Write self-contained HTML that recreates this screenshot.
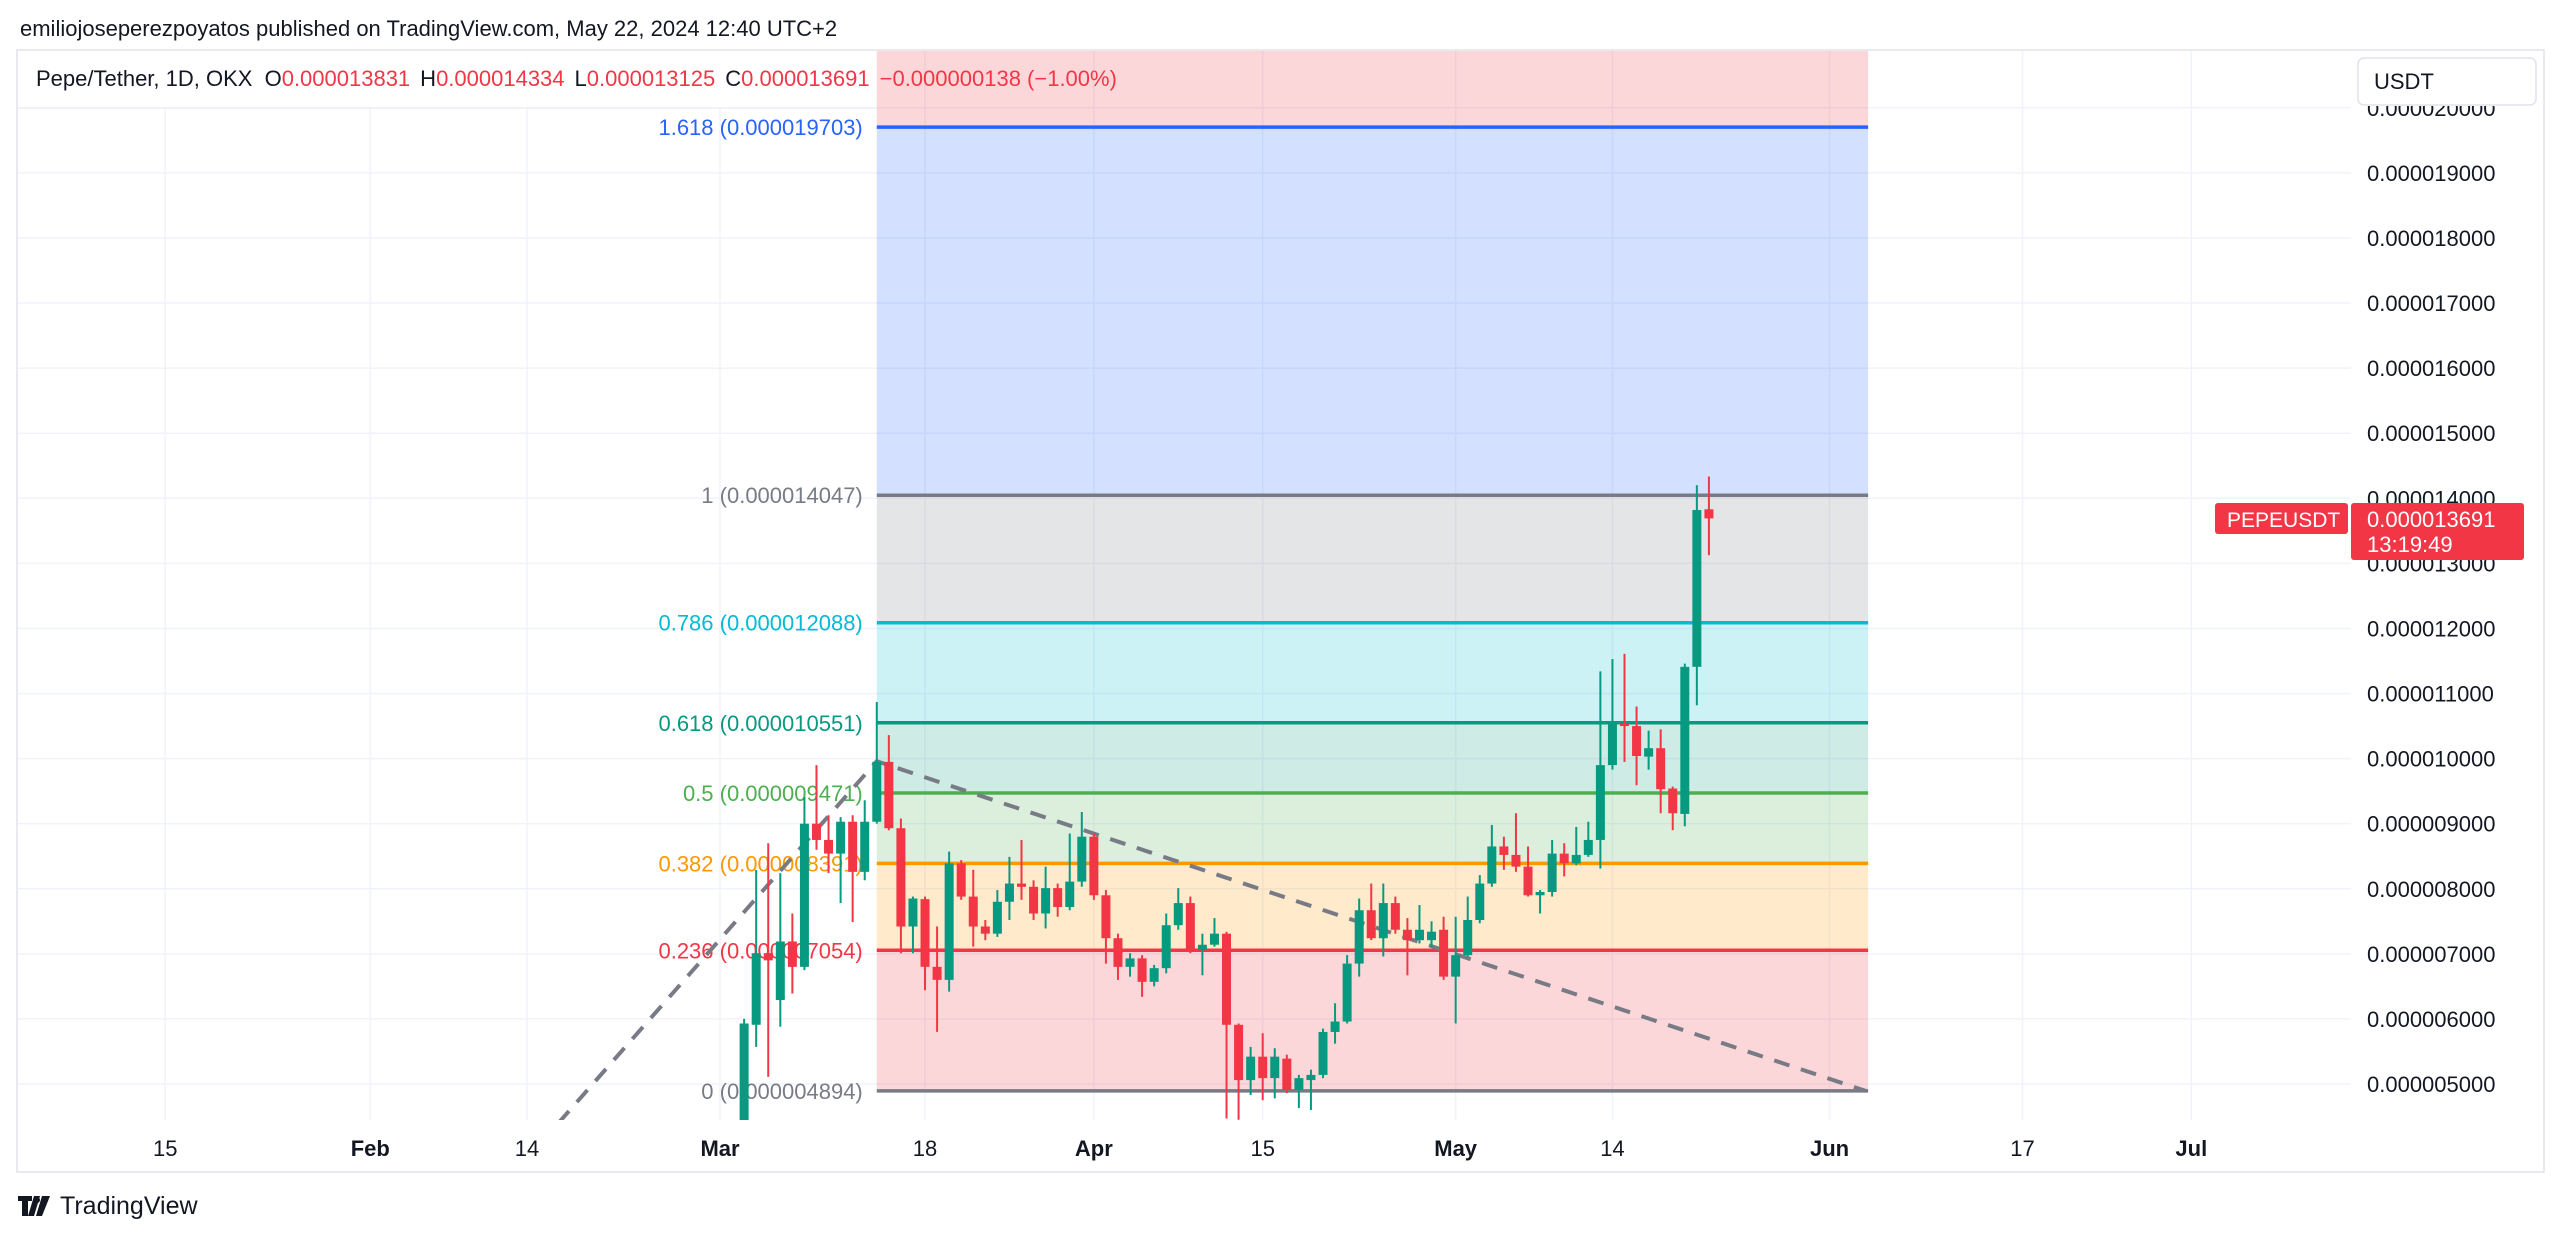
<!DOCTYPE html>
<html><head><meta charset="utf-8"><style>
html,body{margin:0;padding:0;background:#fff;width:2560px;height:1237px;overflow:hidden}
svg text{font-family:"Liberation Sans",sans-serif}
</style></head><body>
<svg id="chart" width="2560" height="1237" viewBox="0 0 2560 1237" xmlns="http://www.w3.org/2000/svg">
<text x="20" y="36" font-size="22" fill="#131722">emiliojoseperezpoyatos published on TradingView.com, May 22, 2024 12:40 UTC+2</text>
<rect x="17" y="50" width="2527" height="1122" fill="#fff" stroke="#e0e3eb" stroke-width="1.5"/>
<g id="grid"></g>
<g id="fib"></g>
<g id="trend"></g>
<g id="candles"></g>
<rect x="18" y="51" width="857" height="57" fill="#fff" opacity="0.9"/>
<line x1="18" y1="108" x2="875" y2="108" stroke="#eceef2" stroke-width="1.5"/>
<text x="36" y="86" font-size="22" fill="#131722">Pepe/Tether, 1D, OKX <tspan dx="6">O</tspan><tspan fill="#f23645">0.000013831</tspan><tspan dx="10">H</tspan><tspan fill="#f23645">0.000014334</tspan><tspan dx="10">L</tspan><tspan fill="#f23645">0.000013125</tspan><tspan dx="10">C</tspan><tspan fill="#f23645">0.000013691</tspan><tspan dx="10" fill="#f23645">−0.000000138 (−1.00%)</tspan></text>
<rect x="2352" y="51" width="191" height="1070" fill="#fff"/>
<g id="yaxis"></g>
<g id="xaxis"></g>
<rect x="2358" y="58" width="178" height="47" rx="6" fill="#fff" stroke="#e0e3eb" stroke-width="1.5"/>
<text x="2374" y="89" font-size="22" fill="#131722">USDT</text>
<g>
<rect x="2215" y="503" width="133" height="31" rx="3" fill="#f23645"/>
<text x="2227" y="527" font-size="21" fill="#fff">PEPEUSDT</text>
<rect x="2351" y="503" width="173" height="57" rx="3" fill="#f23645"/>
<text x="2367" y="527" font-size="22" fill="#fff">0.000013691</text>
<text x="2367" y="552" font-size="22" fill="#fff">13:19:49</text>
</g>
<g>
<path d="M18 1196h14v5h-4v15h-6v-15h-4zM34 1196h6l-6 20h-6z" fill="#131722"/>
<circle cx="37" cy="1200" r="3" fill="#131722"/>
<path d="M42 1196h8l-8 20h-6z" fill="#131722"/>
<text x="60" y="1214" font-size="25" fill="#131722">TradingView</text>
</g>
</svg>
<script>
// ----- data -----
const priceTicks = [5,6,7,8,9,10,11,12,13,14,15,16,17,18,19,20];
const timeTickDays = [-46,-29,-16,0,17,31,45,61,74,92,108,122];
const timeTickLabels = ["15","Feb","14","Mar","18","Apr","15","May","14","Jun","17","Jul"];
const timeTickBold = [false,true,false,true,false,true,false,true,false,true,false,true];
const firstCandleDay = 2;
const opens  = [4.30,5.91,7.01,6.29,7.19,6.80,9.00,8.75,8.54,9.03,8.26,9.03,9.95,8.93,7.42,7.84,6.80,6.60,8.39,7.88,7.42,7.31,7.80,8.08,8.03,7.62,8.01,7.72,8.11,8.80,7.90,7.24,6.80,6.93,6.57,6.78,7.44,7.78,7.06,7.14,7.31,5.91,5.06,5.42,5.09,5.39,4.91,5.06,5.14,5.80,5.96,6.85,7.67,7.24,7.78,7.37,7.21,7.21,7.37,6.65,6.98,7.52,8.08,8.65,8.52,8.34,7.90,7.95,8.54,8.39,8.52,8.75,9.90,10.54,10.50,10.03,10.16,9.54,9.15,11.41,13.831];
const highs  = [6.00,8.29,8.70,8.24,7.62,9.41,9.90,9.13,9.10,9.13,9.36,10.87,10.36,9.08,7.88,7.88,7.42,8.57,8.44,8.29,7.52,7.98,8.49,8.75,8.13,8.34,8.08,8.85,9.18,8.85,7.98,7.31,7.01,6.98,6.83,7.62,8.01,7.88,7.31,7.55,7.34,5.93,5.57,5.78,5.55,5.45,5.14,5.22,5.85,6.24,6.98,7.85,8.08,8.08,7.88,7.55,7.75,7.50,7.57,7.57,7.88,8.21,8.98,8.80,9.16,8.65,7.98,8.75,8.70,8.95,9.03,11.34,11.53,11.61,10.80,10.43,10.45,9.57,11.46,14.20,14.334];
const lows   = [4.20,5.57,5.11,5.88,6.39,6.75,8.60,8.24,7.78,7.49,8.13,9.00,8.90,7.01,7.01,6.44,5.80,6.42,7.83,7.11,7.21,7.26,7.52,7.83,7.52,7.39,7.57,7.67,8.03,7.83,6.85,6.60,6.65,6.34,6.50,6.70,7.37,7.01,6.67,7.11,4.47,4.45,4.83,4.75,4.78,4.86,4.63,4.60,5.09,5.62,5.93,6.65,7.21,6.96,7.31,6.67,7.16,7.10,6.60,5.93,6.96,7.47,8.03,8.29,8.26,7.88,7.62,7.88,8.19,8.36,8.49,8.31,9.83,9.95,9.59,9.83,9.16,8.90,8.96,10.82,13.125];
const closes = [5.93,7.01,6.90,7.19,6.80,9.00,8.75,8.54,9.03,8.26,9.03,9.95,8.93,7.42,7.85,6.80,6.60,8.39,7.88,7.42,7.31,7.80,8.08,8.03,7.62,8.01,7.72,8.11,8.80,7.90,7.24,6.80,6.93,6.57,6.78,7.44,7.78,7.06,7.14,7.31,5.91,5.06,5.42,5.09,5.42,4.91,5.09,5.14,5.80,5.96,6.85,7.67,7.24,7.78,7.37,7.21,7.37,7.34,6.65,6.98,7.52,8.08,8.65,8.52,8.34,7.90,7.95,8.54,8.39,8.52,8.75,9.90,10.54,10.50,10.04,10.16,9.53,9.16,11.41,13.82,13.691];
const fibRatios = [0,0.236,0.382,0.5,0.618,0.786,1,1.618];
const fibLow = 4.8944, fibHigh = 14.0468;
const fibStartDay = 13, fibEndDay = 95.2;
const trendDays = [-13.4,13,95];
const trendPrices = [4.40,9.96,4.894];
// ----- scales -----
const PX0=720, PXD=12.06, PY0=1084, PYU=65.08;
const X = d => PX0 + d*PXD;
const Y = p => PY0 - (p-5)*PYU;
const NS="http://www.w3.org/2000/svg";
function mk(tag, attrs, parent){const e=document.createElementNS(NS,tag);for(const k in attrs)e.setAttribute(k,attrs[k]);parent.appendChild(e);return e;}
const svg=document.getElementById('chart');
const defs=mk('defs',{},svg);
const cp=mk('clipPath',{id:'plotclip'},defs);
mk('rect',{x:18,y:51,width:2333,height:1069},cp);
const grid=document.getElementById('grid');
const yax=document.getElementById('yaxis');
priceTicks.forEach(p=>{
  const l=mk('line',{x1:18,x2:2351,y1:Y(p),y2:Y(p),stroke:'#f0f3fa','stroke-width':1.5},grid);
  
  
  const t=mk('text',{x:2367,y:Y(p)+8,'font-size':22,fill:'#131722'},yax);
  
  
  t.textContent=(p/1e6).toFixed(9);
});
yax.setAttribute('clip-path','url(#yclip)');
const yc=mk('clipPath',{id:'yclip'},defs);mk('rect',{x:2352,y:106,width:190,height:1014},yc);
const xax=document.getElementById('xaxis');
timeTickDays.forEach((d,i)=>{
  const l=mk('line',{x1:X(d),x2:X(d),y1:51,y2:1120,stroke:'#f0f3fa','stroke-width':1.5},grid);
  
  
  const t=mk('text',{x:X(d),y:1156,'font-size':22,fill:'#131722','text-anchor':'middle','font-weight':timeTickBold[i]?'bold':'normal'},xax);
  
  
  t.textContent=timeTickLabels[i];
});
// fib
const fib=document.getElementById('fib');
fib.setAttribute('clip-path','url(#plotclip)');
const fibLine=['#787b86','#f23645','#ff9800','#4caf50','#089981','#00bcd4','#787b86','#2962ff'];
const fibFill=['rgba(242,54,69,0.2)','rgba(255,152,0,0.2)','rgba(76,175,80,0.2)','rgba(8,153,129,0.2)','rgba(0,188,212,0.2)','rgba(120,123,134,0.2)','rgba(41,98,255,0.2)','rgba(242,54,69,0.2)'];
const fx1=X(fibStartDay), fx2=X(fibEndDay);
const fp = r => fibLow + r*(fibHigh-fibLow);
fibRatios.forEach((r,i)=>{
  const top = i<fibRatios.length-1 ? Y(fp(fibRatios[i+1])) : 0;
  const b = Y(fp(r));
  const band=mk('rect',{x:fx1,y:top,width:fx2-fx1,height:b-top,fill:fibFill[i]},fib);
  
  
});
fibRatios.forEach((r,i)=>{
  const y=Y(fp(r));
  const l=mk('line',{x1:fx1,x2:fx2,y1:y,y2:y,stroke:fibLine[i],'stroke-width':3.5},fib);
  
  
  const t=mk('text',{x:fx1-14,y:y+8,'font-size':22,fill:fibLine[i],'text-anchor':'end'},fib);
  
  
  t.textContent=r+' ('+(fp(r)/1e6).toFixed(9)+')';
});
// trend
const tr=document.getElementById('trend');
tr.setAttribute('clip-path','url(#plotclip)');
const pl=mk('polyline',{points:trendDays.map((d,i)=>X(d)+','+Y(trendPrices[i])).join(' '),fill:'none',stroke:'#787b86','stroke-width':4,'stroke-dasharray':'16 12'},tr);


// candles
const cg=document.getElementById('candles');
cg.setAttribute('clip-path','url(#plotclip)');
opens.forEach((o,i)=>{
  const c=closes[i], x=X(firstCandleDay+i);
  const col = c>=o ? '#089981' : '#f23645';
  const g=mk('g',{},cg);
  
  
  mk('line',{x1:x,x2:x,y1:Y(highs[i]),y2:Y(lows[i]),stroke:col,'stroke-width':2},g);
  const t=Math.min(Y(o),Y(c)), h=Math.max(2,Math.abs(Y(o)-Y(c)));
  mk('rect',{x:x-4.5,y:t,width:9,height:h,fill:col},g);
});
</script>
</body></html>
